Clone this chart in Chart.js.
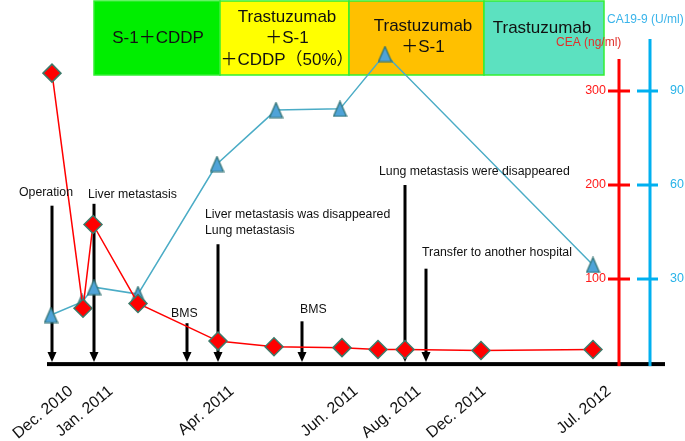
<!DOCTYPE html>
<html>
<head>
<meta charset="utf-8">
<script src="https://cdn.jsdelivr.net/npm/chart.js@4.4.0/dist/chart.umd.min.js"></script>
<style>
  body { margin: 0; background: #fff; }
  canvas { display: block; }
</style>
</head>
<body>
<canvas id="chart" width="685" height="441"></canvas>
<script>
// timeline position of each measurement (schematic timeline, not to scale)
const ceaPos = [52, 83, 93, 138, 218, 274, 342, 378, 405, 481, 593];
const ceaValues = [319, 69, 158, 74, 34, 28, 27, 25, 25, 24, 25];
const caPos = [51, 82, 94, 138, 217, 276, 340, 385, 593];
const caValues = [18.5, 22.7, 27.4, 25.2, 66.7, 83.9, 84.3, 101.8, 34.5];

const dateLabels = ['Dec. 2010', 'Jan. 2011', 'Apr. 2011', 'Jun. 2011', 'Aug. 2011', 'Dec. 2011', 'Jul. 2012'];
const datePos = [57, 97, 218, 342, 405, 470, 595];

const ceaTicks = [100, 200, 300];
const caTicks = [30, 60, 90];

const treatments = [['S-1＋CDDP'], ['Trastuzumab', '＋S-1', '＋CDDP（50%）'], ['Trastuzumab', '＋S-1'], ['Trastuzumab']];
const treatmentStart = [94, 220, 349, 484];
const treatmentEnd = [220, 349, 484, 604];

const events = ['Operation', 'Liver metastasis', 'BMS', 'Liver metastasis was disappeared\nLung metastasis', 'BMS',
  'Lung metastasis were disappeared', 'Transfer to another hospital'];
const eventPos = [52, 94, 187, 218, 302, 405, 426];
const eventTop = [178, 180, 53, 137, 55, 200, 111]; // arrow start, CEA units

// layout (pixels)
const FONT = 'Arial, "Liberation Sans", "Noto Sans CJK JP", sans-serif';
const boxColors = ['#00ee00', '#ffff00', '#ffc000', '#5ce1c0'];
const boxTop = 1, boxBottom = 75;
const boxTextX = [158, 287, 423, 542];
const boxTextY = [[38], [17, 38, 60], [26, 47], [28]];
const eventText = [[19, 193], [88, 195], [171, 314], [205, 215], [300, 310], [379, 172], [422, 253]];
const baseLevel = 9.5;
const ceaAxisX = 619, caAxisX = 650;

function triangleImage() {
  const c = document.createElement('canvas');
  c.width = 15; c.height = 17;
  const g = c.getContext('2d');
  g.beginPath();
  g.moveTo(7.5, 1); g.lineTo(14, 16); g.lineTo(1, 16); g.closePath();
  g.fillStyle = '#4fa3d8'; g.fill();
  g.lineWidth = 1.2; g.strokeStyle = '#2d6f70'; g.stroke();
  return c;
}

const decorations = {
  id: 'decorations',
  beforeDatasetsDraw(chart) {
    const ctx = chart.ctx, x = chart.scales.x, y = chart.scales.y;
    ctx.save();
    // treatment boxes
    treatments.forEach((lines, i) => {
      const l = x.getPixelForValue(treatmentStart[i]), r = x.getPixelForValue(treatmentEnd[i]);
      ctx.fillStyle = boxColors[i];
      ctx.fillRect(l, boxTop, r - l, boxBottom - boxTop);
      ctx.lineWidth = 1.5; ctx.strokeStyle = '#33ee33';
      ctx.strokeRect(l, boxTop, r - l, boxBottom - boxTop);
      ctx.fillStyle = '#111';
      ctx.font = '17px ' + FONT;
      ctx.textAlign = 'center'; ctx.textBaseline = 'middle';
      lines.forEach((t, j) => ctx.fillText(t, boxTextX[i], boxTextY[i][j]));
    });
    // time line
    const by = y.getPixelForValue(baseLevel);
    ctx.fillStyle = '#000';
    ctx.fillRect(47, by - 2, 618, 4);
    // event arrows
    eventPos.forEach((p, i) => {
      const px = x.getPixelForValue(p), top = y.getPixelForValue(eventTop[i]);
      const tip = by - 2;
      ctx.fillRect(px - 1.5, top, 3, tip - 8 - top);
      ctx.beginPath();
      ctx.moveTo(px - 4.5, tip - 10); ctx.lineTo(px + 4.5, tip - 10); ctx.lineTo(px, tip); ctx.closePath();
      ctx.fill();
    });
    ctx.restore();
  },
  afterDatasetsDraw(chart) {
    const ctx = chart.ctx, x = chart.scales.x, y = chart.scales.y, y2 = chart.scales.y2;
    const by = y.getPixelForValue(baseLevel);
    ctx.save();
    // value axes
    ctx.fillStyle = '#ff0000';
    ctx.fillRect(ceaAxisX - 1.5, 59, 3, by + 2 - 59);
    ctx.fillStyle = '#00b0f0';
    ctx.fillRect(caAxisX - 1.5, 39, 3, by + 2 - 39);
    ctx.font = '12.5px ' + FONT;
    ctx.textBaseline = 'middle';
    ceaTicks.forEach(t => {
      const py = y.getPixelForValue(t);
      ctx.fillStyle = '#ff0000';
      ctx.fillRect(608, py - 1.5, 22, 3);
      ctx.fillStyle = '#ff1a1a';
      ctx.textAlign = 'right';
      ctx.fillText(String(t), 606, py);
    });
    caTicks.forEach(t => {
      const py = y2.getPixelForValue(t);
      ctx.fillStyle = '#00b0f0';
      ctx.fillRect(637, py - 1.5, 21, 3);
      ctx.fillStyle = '#29b3e8';
      ctx.textAlign = 'left';
      ctx.fillText(String(t), 670, py);
    });
    ctx.font = '12px ' + FONT;
    ctx.textAlign = 'left';
    ctx.fillStyle = '#3ab4ea';
    ctx.fillText('CA19-9 (U/ml)', 607, 20);
    ctx.fillStyle = '#e0302a';
    ctx.fillText('CEA (ng/ml)', 556, 43);
    // event labels
    ctx.fillStyle = '#111';
    ctx.font = '12.3px ' + FONT;
    events.forEach((t, i) => {
      t.split('\n').forEach((line, j) => ctx.fillText(line, eventText[i][0], eventText[i][1] + j * 16));
    });
    // date labels
    ctx.font = '16px ' + FONT;
    ctx.textAlign = 'right';
    dateLabels.forEach((t, i) => {
      ctx.save();
      ctx.translate(x.getPixelForValue(datePos[i]) + 14, by + 25);
      ctx.rotate(-40 * Math.PI / 180);
      ctx.fillText(t, 0, 0);
      ctx.restore();
    });
    ctx.restore();
  }
};

const ceaPoints = ceaPos.map((p, i) => ({ x: p, y: ceaValues[i] }));
const caPoints = caPos.map((p, i) => ({ x: p, y: caValues[i] }));

new Chart(document.getElementById('chart'), {
  type: 'line',
  data: {
    datasets: [{
      label: 'CEA (ng/ml)',
      data: ceaPoints,
      yAxisID: 'y',
      borderColor: '#ff0000',
      borderWidth: 1.5,
      pointStyle: 'rectRot',
      pointRadius: 9,
      pointBackgroundColor: '#ff0000',
      pointBorderColor: '#3d7a6a',
      pointBorderWidth: 1.5
    }, {
      label: 'CA19-9 (U/ml)',
      data: caPoints,
      yAxisID: 'y2',
      borderColor: '#4bacc6',
      borderWidth: 1.5,
      pointStyle: triangleImage()
    }]
  },
  options: {
    responsive: false,
    animation: false,
    layout: { padding: 0, autoPadding: false },
    plugins: { legend: { display: false }, tooltip: { enabled: false } },
    scales: {
      x: { type: 'linear', min: 0, max: 685, display: false },
      y: { min: -72.3, max: 396.8, bounds: 'data', display: false },
      y2: { min: -72.3 * 0.3, max: 396.8 * 0.3, bounds: 'data', display: false }
    }
  },
  plugins: [decorations]
});
</script>
</body>
</html>
